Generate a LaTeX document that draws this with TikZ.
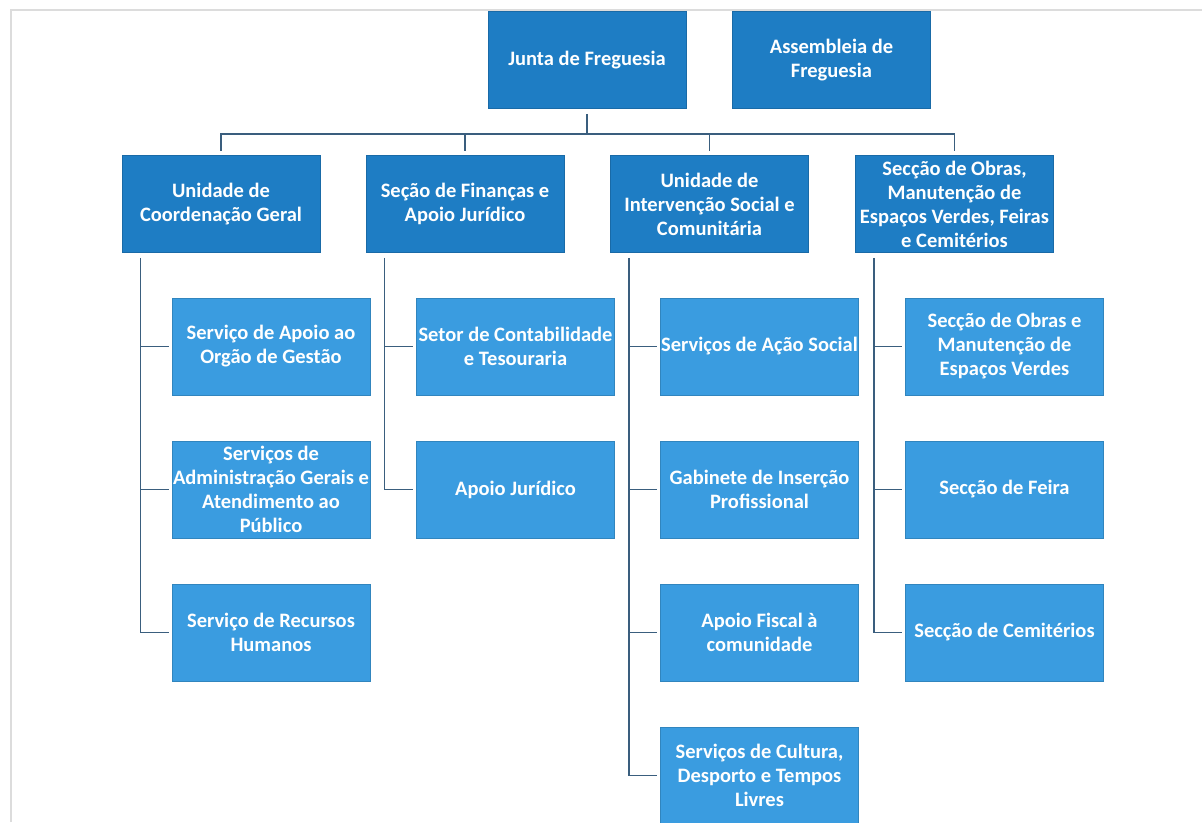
\documentclass[tikz,border=0pt]{standalone}
\usepackage{fontspec}
\setmainfont{Carlito}
\definecolor{topblue}{HTML}{1E7DC4}
\definecolor{subblue}{HTML}{3A9CE0}
\definecolor{linecol}{HTML}{3A5E7E}
\definecolor{framecol}{HTML}{DCDCDC}
\tikzset{
  basebox/.style={minimum width=198pt, minimum height=97pt, inner sep=0pt, align=center,
    text=white, font=\bfseries\fontsize{20.5}{24}\selectfont, line width=0.6pt},
  topbox/.style={basebox, fill=topblue, draw=topblue!85!black},
  subbox/.style={basebox, fill=subblue, draw=subblue!85!black},
  conn/.style={draw=linecol, line width=1.5pt},
}
\begin{document}
\begin{tikzpicture}[x=1pt,y=-1pt]
\useasboundingbox (0,0) rectangle (1202,822);
\draw[framecol, line width=1.2pt] (11,822) -- (11,10) -- (1202,10);
% level 1
\node[topbox] (j) at (587,60) {Junta de Freguesia};
\node[topbox] (as) at (831.5,60) {Assembleia de\\Freguesia};
% level 2
\node[topbox] (a) at (221,204) {Unidade de\\Coordenação Geral};
\node[topbox] (b) at (465,204) {Seção de Finanças e\\Apoio Jurídico};
\node[topbox] (c) at (709.5,204) {Unidade de\\Intervenção Social e\\Comunitária};
\node[topbox] (d) at (954.5,204) {Secção de Obras,\\Manutenção de\\Espaços Verdes, Feiras\\e Cemitérios};
% level 3
\node[subbox] (a1) at (271,346.5) {Serviço de Apoio ao\\Orgão de Gestão};
\node[subbox] (a2) at (271,489.5) {Serviços de\\Administração Gerais e\\Atendimento ao\\Público};
\node[subbox] (a3) at (271,632.5) {Serviço de Recursos\\Humanos};
\node[subbox] (b1) at (515.5,346.5) {Setor de Contabilidade\\e Tesouraria};
\node[subbox] (b2) at (515.5,489.5) {Apoio Jurídico};
\node[subbox] (c1) at (759.5,346.5) {Serviços de Ação Social};
\node[subbox] (c2) at (759.5,489.5) {Gabinete de Inserção\\Profissional};
\node[subbox] (c3) at (759.5,632.5) {Apoio Fiscal à\\comunidade};
\node[subbox] (c4) at (759.5,775.5) {Serviços de Cultura,\\Desporto e Tempos\\Livres};
\node[subbox] (d1) at (1004.5,346.5) {Secção de Obras e\\Manutenção de\\Espaços Verdes};
\node[subbox] (d2) at (1004.5,489.5) {Secção de Feira};
\node[subbox] (d3) at (1004.5,632.5) {Secção de Cemitérios};
% bus
\coordinate (bus) at (587,134);
\draw[conn] ([yshift=-5pt]j.south) -- (j.south |- bus);
\draw[conn] ([yshift=4pt]a.north) -- (a.north |- bus) -- (d.north |- bus) -- ([yshift=4pt]d.north);
\draw[conn] (b.north |- bus) -- ([yshift=4pt]b.north);
\draw[conn] (c.north |- bus) -- ([yshift=4pt]c.north);
% columns
\foreach \p/\last in {a/a3,b/b2,c/c4,d/d3}{
  \coordinate (\p x) at ([xshift=19pt,yshift=-5pt]\p.south west);
  \draw[conn] (\p x) |- ([xshift=-3pt]\last.west);
}
\foreach \p/\q in {a/a1,a/a2,b/b1,c/c1,c/c2,c/c3,d/d1,d/d2}{
  \draw[conn] (\p x |- \q.west) -- ([xshift=-3pt]\q.west);
}
\end{tikzpicture}
\end{document}
